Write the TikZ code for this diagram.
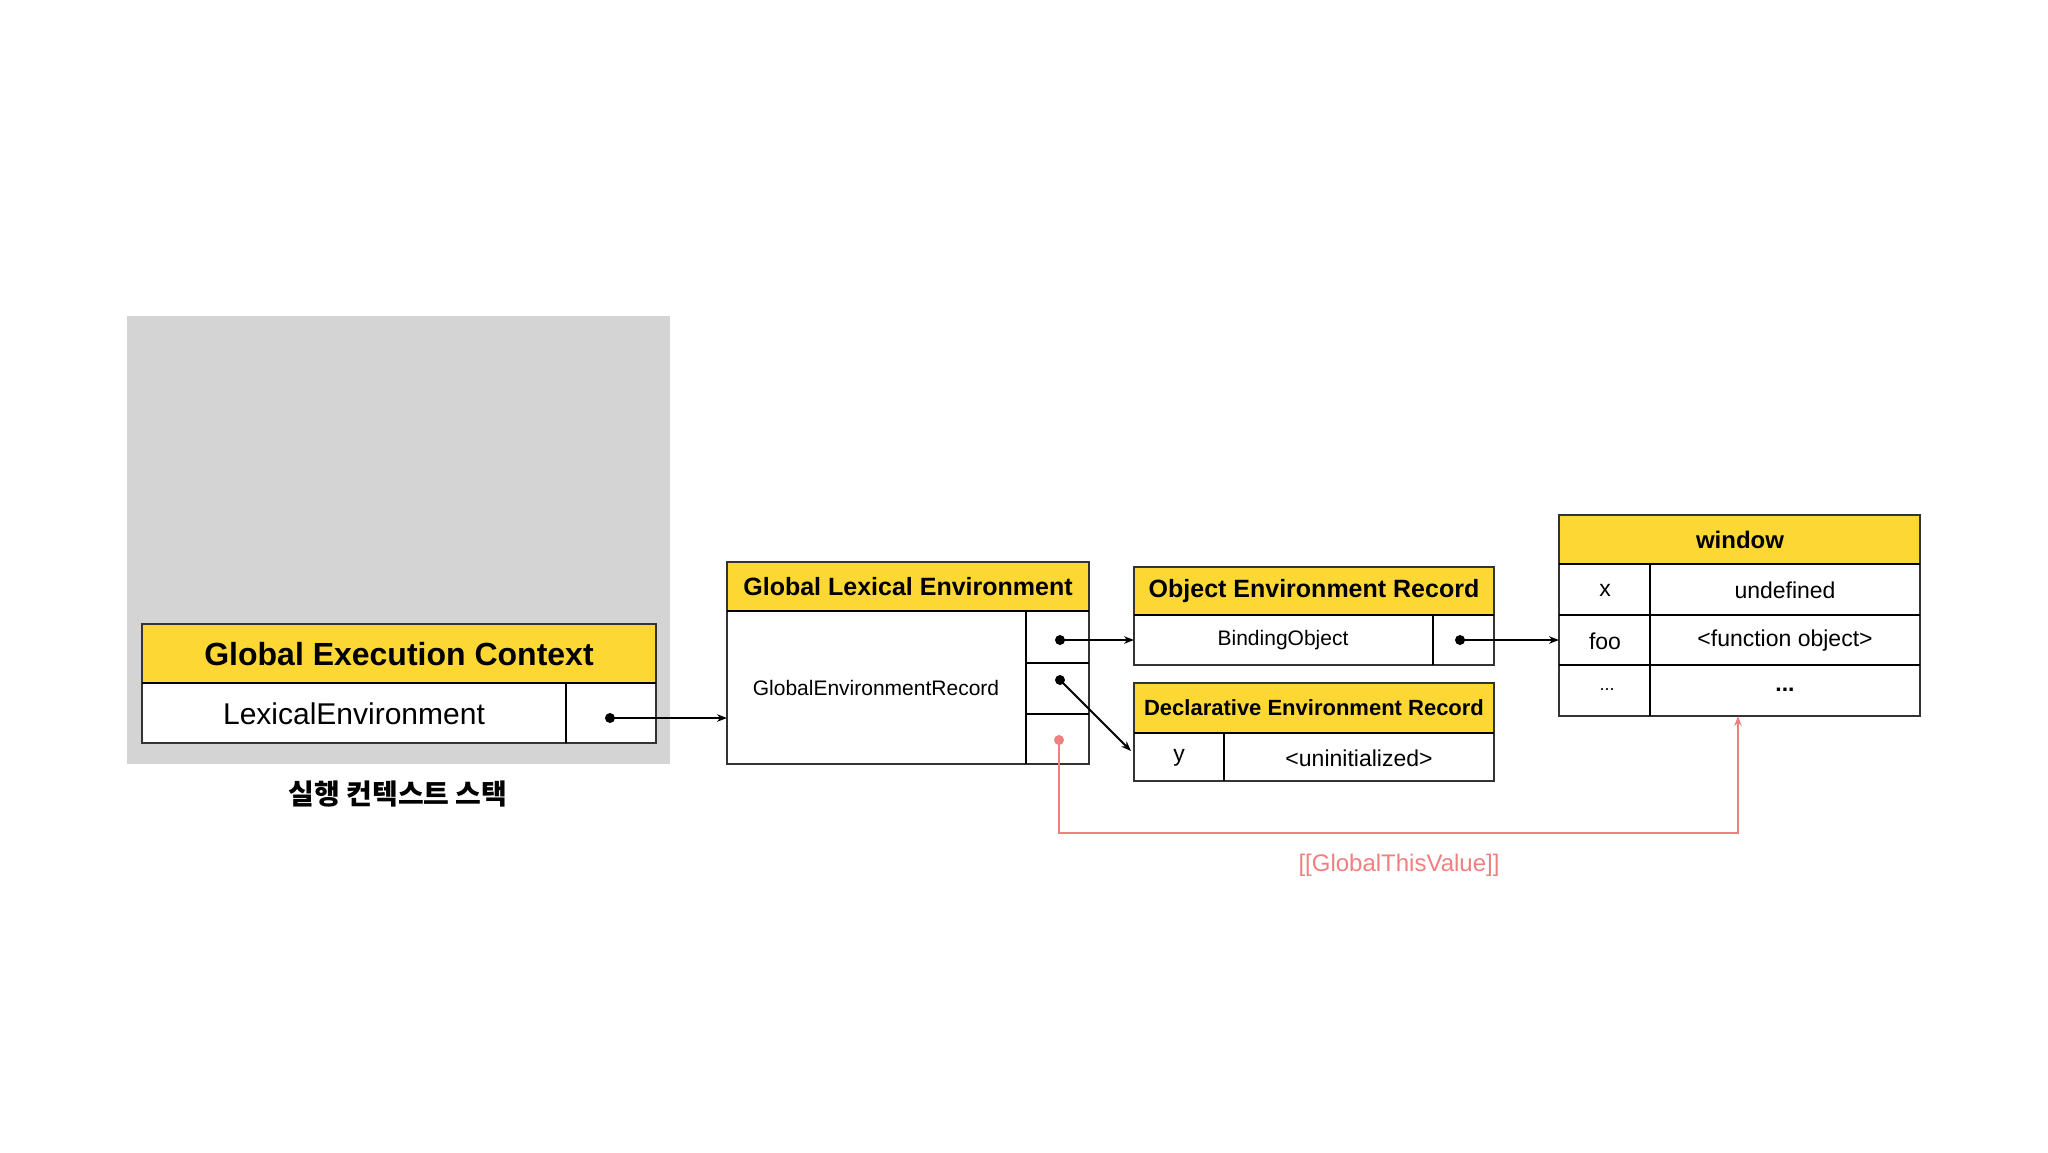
\documentclass[tikz,border=0pt]{standalone}
\usepackage{fontspec}
\setmainfont{Liberation Sans}
\newfontfamily\kor{Noto Sans CJK KR}
\usetikzlibrary{arrows.meta}
\definecolor{hdr}{HTML}{FDD835}
\definecolor{stk}{HTML}{D4D4D4}
\definecolor{redl}{HTML}{F08080}
\tikzset{
 cell/.style={draw=black!80,line width=0.6pt,fill=white},
 head/.style={draw=black!80,line width=0.6pt,fill=hdr},
 sep/.style={line width=1.4pt},
 arr/.style={line width=1pt,-{Stealth[length=5pt]}},
 dotc/.style={circle,fill=black,inner sep=0pt,minimum size=5pt},
}
\begin{document}
\begin{tikzpicture}[x=0.5pt,y=-0.5pt]
\useasboundingbox (0,0) rectangle (2048,1152);
\fill[white] (0,0) rectangle (2048,1152);
\fill[stk] (127,316) rectangle (670,764);
% GEC
\draw[cell] (142,683) rectangle (656,743);
\draw[head] (142,624) rectangle (656,683);
\draw[sep] (142,683) -- (656,683);
\draw[sep] (566,683) -- (566,743);
\node[font=\bfseries\fontsize{16}{18}\selectfont] (gec) at (399,654) {Global Execution Context};
\node[font=\fontsize{15}{18}\selectfont] (lexenv) at (354,714) {LexicalEnvironment};
\node[dotc] (d1) at (610,718) {};
\node[font=\kor\bfseries\fontsize{14}{16}\selectfont] (stack) at (398,794) {실행 컨텍스트 스택};
% GLE
\draw[cell] (727,611) rectangle (1089,764);
\draw[head] (727,562) rectangle (1089,611);
\draw[sep] (727,611) -- (1089,611);
\draw[sep] (1026,611) -- (1026,764);
\draw[line width=0.6pt] (1026,663) -- (1089,663) (1026,714) -- (1089,714);
\node[font=\bfseries\fontsize{12.5}{15}\selectfont] (gle) at (908,587) {Global Lexical Environment};
\node[font=\fontsize{10.5}{13}\selectfont] (ger) at (876,688) {GlobalEnvironmentRecord};
\coordinate (gleL) at (727,718);
\node[dotc] (d2) at (1060,640) {};
\node[dotc] (d3) at (1060,680) {};
\node[dotc,fill=redl] (d4) at (1059,740) {};
% OER
\draw[cell] (1134,615) rectangle (1494,665);
\draw[head] (1134,567) rectangle (1494,615);
\draw[sep] (1134,615) -- (1494,615);
\draw[sep] (1433,615) -- (1433,665);
\node[font=\bfseries\fontsize{12.5}{15}\selectfont] (oer) at (1314,591) {Object Environment Record};
\node[font=\fontsize{10.5}{13}\selectfont] (bo) at (1283,640) {BindingObject};
\coordinate (oerL) at (1134,640);
\node[dotc] (d5) at (1460,640) {};
% DER
\draw[cell] (1134,733) rectangle (1494,781);
\draw[head] (1134,683) rectangle (1494,733);
\draw[sep] (1134,733) -- (1494,733);
\draw[sep] (1224,733) -- (1224,781);
\node[font=\bfseries\fontsize{11}{13}\selectfont] (der) at (1314,708) {Declarative Environment Record};
\node[font=\fontsize{11.5}{13}\selectfont] (y) at (1179,758) {y};
\node[font=\fontsize{11.5}{13}\selectfont] (un) at (1359,758) {<uninitialized>};
\coordinate (derL) at (1131,751);
% window
\draw[cell] (1559,564) rectangle (1920,716);
\draw[head] (1559,515) rectangle (1920,564);
\draw[sep] (1559,564) -- (1920,564);
\draw[sep] (1650,564) -- (1650,716);
\draw[line width=0.6pt] (1559,615) -- (1920,615) (1559,665) -- (1920,665);
\node[font=\bfseries\fontsize{12}{14}\selectfont] (win) at (1740,540) {window};
\node[font=\fontsize{11.5}{13}\selectfont] (wx) at (1605,590) {x};
\node[font=\fontsize{11.5}{13}\selectfont] (wu) at (1785,590) {undefined};
\node[font=\fontsize{11.5}{13}\selectfont] (wf) at (1605,641) {foo};
\node[font=\fontsize{11.5}{13}\selectfont] (wfo) at (1785,641) {<function object>};
\node[font=\fontsize{9}{11}\selectfont] (wd1) at (1607,690) {...};
\node[font=\bfseries\fontsize{11.5}{13}\selectfont] (wd2) at (1785,690) {...};
\coordinate (winL) at (1559,640);
\coordinate (winB) at (1738,716);
% arrows
\draw[arr] (d1.center) -- (gleL);
\draw[arr] (d2.center) -- (oerL);
\draw[arr] (d3.center) -- (derL);
\draw[arr] (d5.center) -- (winL);
\draw[redl,line width=1.3pt,-{Stealth[length=5pt]}] (d4.center) |- (1738,833) -- (winB);
\node[text=redl,font=\fontsize{12}{14}\selectfont] (gtv) at (1399,865) {[[GlobalThisValue]]};
\end{tikzpicture}
\end{document}
